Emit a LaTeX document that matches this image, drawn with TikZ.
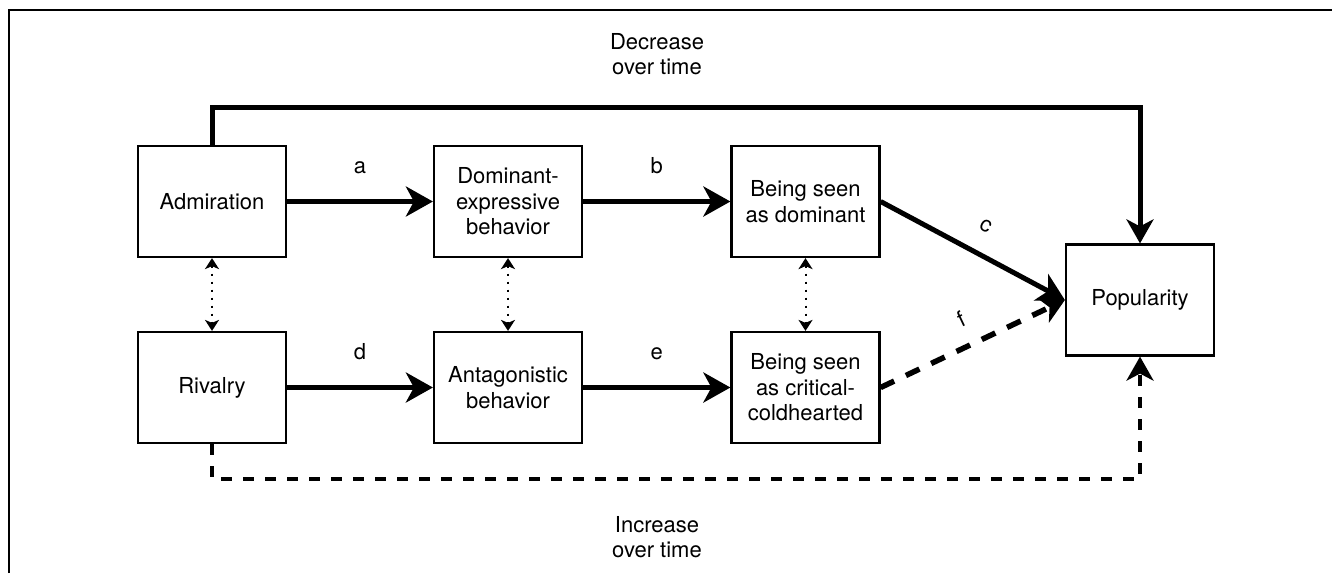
\documentclass[tikz,border=0pt]{standalone}
\usepackage{fontspec}
\setmainfont{TeX Gyre Heros}
\usetikzlibrary{arrows.meta,positioning}

\tikzset{
    box/.style={draw,line width=2.2pt,minimum width=148pt,minimum height=111pt,
        align=center,inner sep=2pt},
    effect/.style={line width=5pt,-{Stealth[length=27pt,width=30pt,inset=8pt]}},
    weak/.style={line width=4.5pt,dash pattern=on 12pt off 11pt,
        -{Stealth[length=24pt,width=27pt,inset=7pt]}},
    link/.style={line width=2pt,dash pattern=on 2pt off 6pt,
        {Stealth[length=11pt,width=14pt,inset=3pt]}-{Stealth[length=11pt,width=14pt,inset=3pt]}},
    lbl/.style={anchor=base,inner sep=0pt}
}

\begin{document}
\begin{tikzpicture}[x=1pt,y=-1pt,font=\fontsize{22}{25.5}\selectfont]
    \useasboundingbox (0,0) rectangle (1332,573);
    \draw[line width=1.4pt] (9,573) -- (9,10) -- (1332,10);
    %%
    \node[box] (adm) at (212,201.5) {Admiration};
    \node[box] (dom) at (508,201.5) {Dominant-\\expressive\\behavior};
    \node[box] (seendom) at (805.5,201.5) {Being seen\\as dominant};
    \node[box] (riv) at (212,387.5) {Rivalry};
    \node[box] (ant) at (508,387.5) {Antagonistic\\behavior};
    \node[box] (seencrit) at (805.5,387.5) {Being seen\\as critical-\\coldhearted};
    \node[box] (pop) at (1140,300) {Popularity};
    %%
    \coordinate (topy) at (0,107);
    \coordinate (boty) at (0,479);
    \node[align=center] (decr) at (657,54) {Decrease\\over time};
    \node[align=center] (incr) at (657,537) {Increase\\over time};
    %%
    \draw[effect] (adm) -- (dom)
        node[lbl,midway,yshift=28pt] {a};
    \draw[effect] (dom) -- (seendom)
        node[lbl,midway,yshift=28pt] {b};
    \draw[effect] (riv) -- (ant)
        node[lbl,midway,yshift=28pt] {d};
    \draw[effect] (ant) -- (seencrit)
        node[lbl,midway,yshift=28pt] {e};
    \draw[effect] (seendom.east) -- (pop.west)
        node[midway,sloped,above=19pt,inner sep=0pt] {c};
    \draw[weak,line width=5.5pt,dash pattern=on 15pt off 13pt] (seencrit.east) -- (pop.west)
        node[midway,sloped,above=17pt,inner sep=0pt] {f};
    %%
    \draw[link] (adm) -- (riv);
    \draw[link] (dom) -- (ant);
    \draw[link] (seendom) -- (seencrit);
    %%
    \draw[effect,-{Stealth[length=24pt,width=27pt,inset=7pt]}]
        (adm.north) -- (adm.north |- topy) -| (pop.north);
    \draw[weak,line width=4pt,dash pattern=on 11pt off 11pt]
        (riv.south) -- (riv.south |- boty) -| (pop.south);
\end{tikzpicture}
\end{document}
